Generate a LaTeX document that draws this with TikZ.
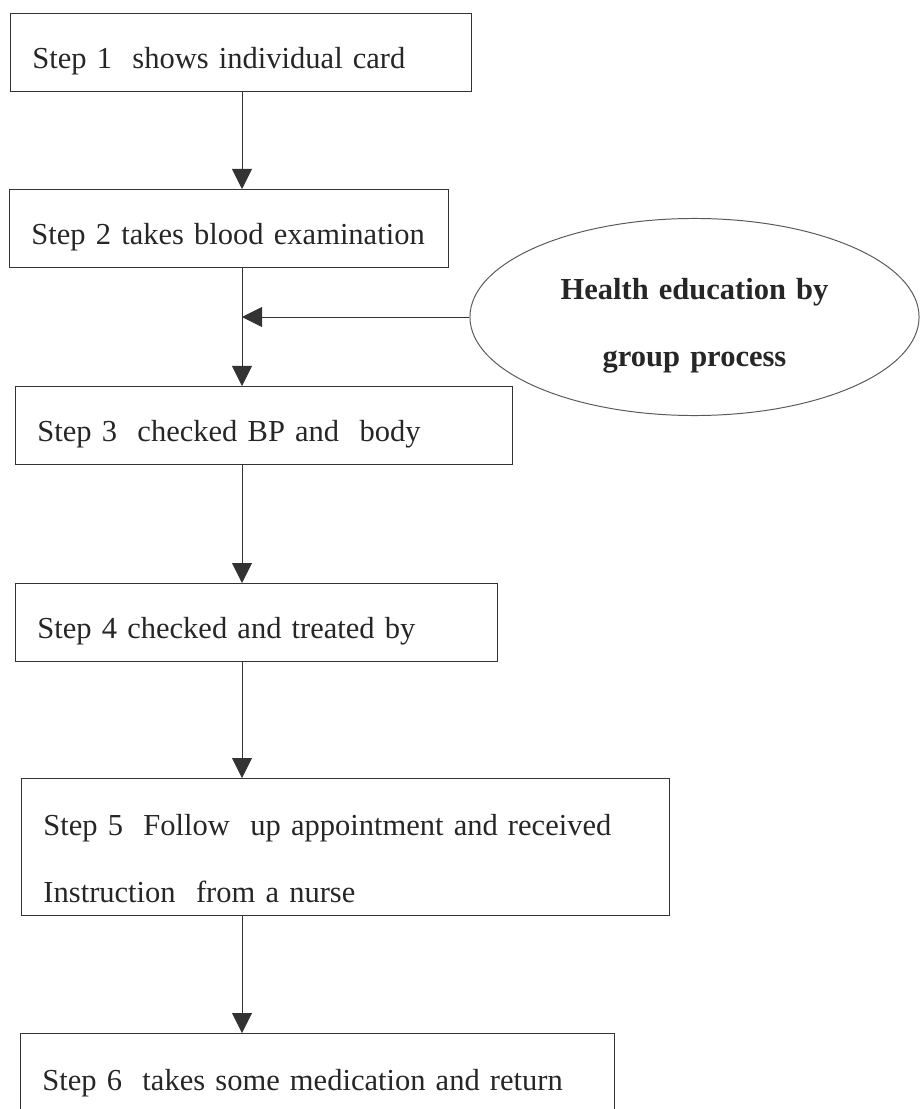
\documentclass[tikz,border=0pt]{standalone}
\usepackage{fontspec}
\setmainfont{Liberation Serif}
\usetikzlibrary{arrows.meta,shapes.geometric}

\begin{document}
\begin{tikzpicture}[x=0.025cm, y=-0.025cm,
    stepbox/.style={draw=black!80, line width=0.7pt, rectangle, anchor=north west,
        align=left, inner xsep=0.55cm, inner ysep=0pt,
        text height=1.375cm, text depth=0.575cm, text=black!85,
        font=\fontsize{21.7pt}{47.6pt}\selectfont},
    arr/.style={draw=black!80, line width=0.7pt, -{Triangle[length=0.5cm,width=0.5cm]}}]

    \useasboundingbox (0,0) rectangle (919,1109);
    \coordinate (spine) at (242,0);

    \node [stepbox, text width=10.425cm] (s1) at (10,13) {Step 1\ \ shows individual card};
    \node [stepbox, text width=9.875cm] (s2) at (9,189) {Step 2 takes blood examination};
    \node [stepbox, text width=11.325cm] (s3) at (15,386) {Step 3\ \ checked BP and\ \ body};
    \node [stepbox, text width=10.95cm] (s4) at (15,583) {Step 4 checked and treated by};
    \node [stepbox, text width=15.1cm, text height=1.425cm, text depth=2cm] (s5) at (21,778)
        {Step 5\ \ Follow\ \ up appointment and received\\Instruction\ \ from a nurse};
    \node [stepbox, text width=13.75cm, text height=1.425cm, text depth=1cm] (s6) at (20,1033)
        {Step 6\ \ takes some medication and return};

    \node [ellipse, draw=black!65, line width=0.7pt, minimum width=11.225cm, minimum height=4.925cm,
        inner sep=0pt, text width=7.5cm, align=center, text height=0.525cm, text depth=1.375cm,
        text=black!85, font=\bfseries\fontsize{21.7pt}{47.6pt}\selectfont] (edu) at (694.5,317)
        {Health education by\\group process};

    \draw [arr] (s1.south -| spine) -- (s2.north -| spine);
    \draw [arr] (s2.south -| spine) -- (s3.north -| spine);
    \draw [arr] (edu.west) -- (edu.west -| spine);
    \draw [arr] (s3.south -| spine) -- (s4.north -| spine);
    \draw [arr] (s4.south -| spine) -- (s5.north -| spine);
    \draw [arr] (s5.south -| spine) -- (s6.north -| spine);

\end{tikzpicture}
\end{document}
